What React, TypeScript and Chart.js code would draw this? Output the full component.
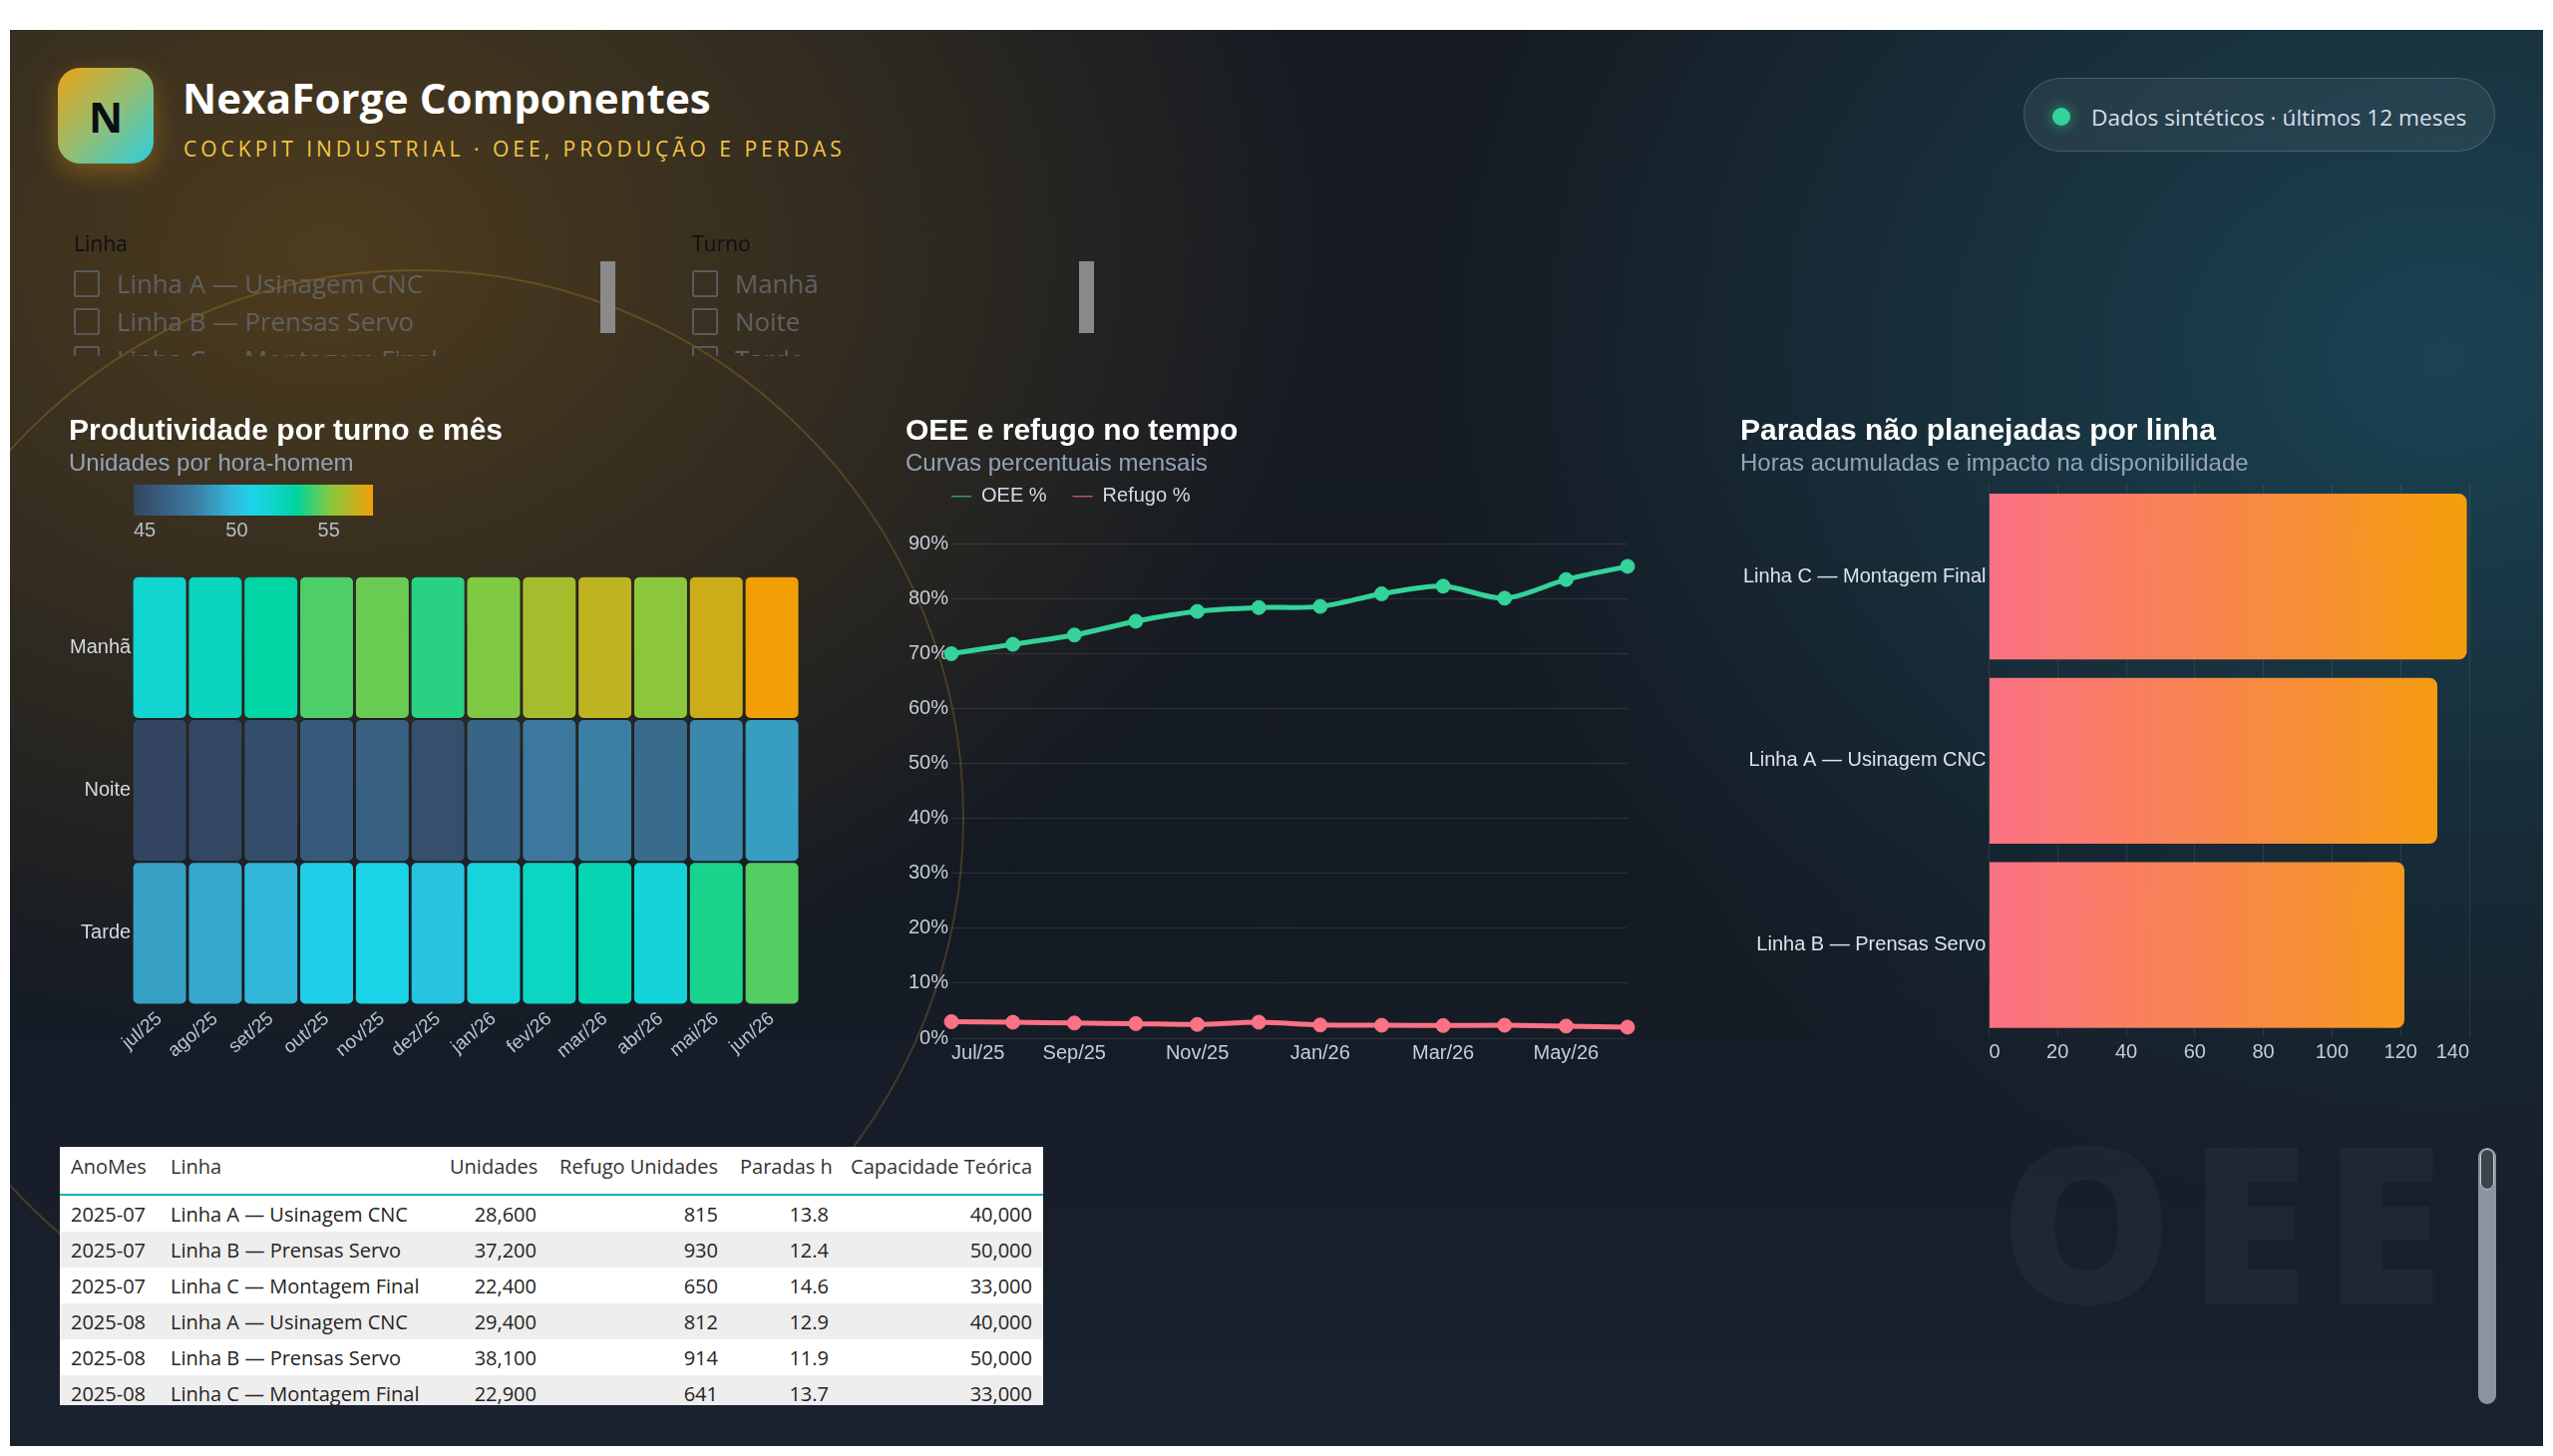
import React, { useEffect, useRef } from 'react';
import { Chart, registerables } from 'chart.js';

Chart.register(...registerables);

// ---------------- DATA ----------------
const heatMonths = ['jul/25', 'ago/25', 'set/25', 'out/25', 'nov/25', 'dez/25', 'jan/26', 'fev/26', 'mar/26', 'abr/26', 'mai/26', 'jun/26'];
const heatRows = ['Manhã', 'Noite', 'Tarde'];
const prodManha = [52.3, 52.9, 53.7, 54.9, 55.3, 54.4, 55.6, 56.4, 56.9, 55.8, 57.2, 58.0];
const prodNoite = [45.0, 45.1, 45.5, 46.3, 46.7, 45.6, 46.9, 48.1, 48.4, 47.3, 48.7, 49.4];
const prodTarde = [49.5, 49.8, 50.3, 51.3, 51.6, 50.8, 52.0, 52.8, 53.3, 52.1, 54.2, 55.0];
const colorScaleMin = 45;
const colorScaleMax = 58;
const colorScaleTicks = [45, 50, 55];

const oeeMonths = ['Jul/25', 'Aug/25', 'Sep/25', 'Oct/25', 'Nov/25', 'Dec/25', 'Jan/26', 'Feb/26', 'Mar/26', 'Apr/26', 'May/26', 'Jun/26'];
const oeeValues = [70.0, 71.7, 73.4, 75.9, 77.7, 78.4, 78.6, 80.9, 82.3, 80.1, 83.5, 85.9];
const refugoValues = [3.0, 2.9, 2.75, 2.65, 2.5, 2.9, 2.4, 2.35, 2.3, 2.35, 2.2, 2.0];
const oeeAxisTicks = [0, 10, 20, 30, 40, 50, 60, 70, 80, 90];
const oeeAxisMax = 95;

const stopLines = ['Linha C — Montagem Final', 'Linha A — Usinagem CNC', 'Linha B — Prensas Servo'];
const stopHours = [139.3, 130.7, 121.1];

const tableHeaders = ['AnoMes', 'Linha', 'Unidades', 'Refugo Unidades', 'Paradas h', 'Capacidade Teórica'];
const tableAnoMes = ['2025-07', '2025-07', '2025-07', '2025-08', '2025-08', '2025-08'];
const tableLinha = ['Linha A — Usinagem CNC', 'Linha B — Prensas Servo', 'Linha C — Montagem Final', 'Linha A — Usinagem CNC', 'Linha B — Prensas Servo', 'Linha C — Montagem Final'];
const tableUnidades = [28600, 37200, 22400, 29400, 38100, 22900];
const tableRefugo = [815, 930, 650, 812, 914, 641];
const tableParadas = [13.8, 12.4, 14.6, 12.9, 11.9, 13.7];
const tableCapacidade = [40000, 50000, 33000, 40000, 50000, 33000];

const filterLinhas = ['Linha A — Usinagem CNC', 'Linha B — Prensas Servo', 'Linha C — Montagem Final'];
const filterTurnos = ['Manhã', 'Noite', 'Tarde'];

// ---------------- STYLE ----------------
const FONT_CHART = 'Arial, "Liberation Sans", Helvetica, sans-serif';
const FONT_UI = '"Open Sans", "Noto Sans", sans-serif';
const scaleStops: [number, string][] = [
  [0, '#334560'],
  [0.25, '#3c7aa0'],
  [0.4, '#33b5d8'],
  [0.5, '#1cd4ea'],
  [0.68, '#00d5a0'],
  [0.82, '#84c940'],
  [1, '#f29f05'],
];

function hexToRgb(h: string) {
  const n = parseInt(h.slice(1), 16);
  return [(n >> 16) & 255, (n >> 8) & 255, n & 255];
}
function colorFor(v: number) {
  let t = (v - colorScaleMin) / (colorScaleMax - colorScaleMin);
  t = Math.max(0, Math.min(1, t));
  for (let i = 0; i < scaleStops.length - 1; i++) {
    const [t0, c0] = scaleStops[i];
    const [t1, c1] = scaleStops[i + 1];
    if (t <= t1) {
      const f = (t - t0) / (t1 - t0);
      const a = hexToRgb(c0);
      const b = hexToRgb(c1);
      const c = a.map((x, k) => Math.round(x + (b[k] - x) * f));
      return `rgb(${c[0]},${c[1]},${c[2]})`;
    }
  }
  return scaleStops[scaleStops.length - 1][1];
}
const cssScaleGradient = `linear-gradient(90deg, ${scaleStops.map(([t, c]) => `${c} ${t * 100}%`).join(', ')})`;

Chart.defaults.font.family = FONT_CHART;
Chart.defaults.color = '#c6cdd7';

const titleOpts = (text: string) => ({
  display: true,
  text,
  align: 'start' as const,
  color: '#ffffff',
  font: { size: 30, weight: 'bold' as const },
  padding: { top: 10, bottom: 0 },
});
const subtitleOpts = (text: string, bottom: number) => ({
  display: true,
  text,
  align: 'start' as const,
  color: '#94a3b8',
  font: { size: 24 },
  padding: { top: 0, bottom },
});

const legendShift = {
  id: 'legendShift',
  afterLayout(chart: any, _args: any, opts: any) {
    const lg = chart.legend;
    if (lg && opts && opts.dx) {
      lg.left += opts.dx;
      lg.right += opts.dx;
    }
  },
};

function ChartCanvas({ left, top, width, height, make }: { left: number; top: number; width: number; height: number; make: () => any }) {
  const ref = useRef<HTMLCanvasElement>(null);
  useEffect(() => {
    const chart = new Chart(ref.current as HTMLCanvasElement, make());
    return () => chart.destroy();
  }, []);
  return <canvas ref={ref} width={width} height={height} style={{ position: 'absolute', left, top, width, height }} />;
}

function makeHeatmap() {
  const rows = [
    { label: 'Tarde', values: prodTarde },
    { label: 'Noite', values: prodNoite },
    { label: 'Manhã', values: prodManha },
  ];
  return {
    type: 'bar',
    data: {
      labels: heatMonths,
      datasets: rows.map((r) => ({
        label: r.label,
        data: heatMonths.map(() => 1),
        backgroundColor: r.values.map(colorFor),
        borderColor: 'rgba(20,24,32,0.55)',
        borderWidth: 1,
        borderRadius: { topLeft: 6, topRight: 6, bottomLeft: 6, bottomRight: 6 },
        borderSkipped: false,
        barPercentage: 1,
        categoryPercentage: 0.985,
      })),
    },
    options: {
      animation: false,
      responsive: false,
      devicePixelRatio: 1,
      layout: { padding: { right: 7, bottom: 2 } },
      plugins: {
        title: titleOpts('Produtividade por turno e mês'),
        subtitle: subtitleOpts('Unidades por hora-homem', 98),
        legend: { display: false },
        tooltip: { enabled: false },
      },
      scales: {
        x: {
          stacked: true,
          grid: { display: false, drawTicks: false },
          border: { display: false },
          ticks: { minRotation: 40, maxRotation: 40, padding: 3, color: '#b9c2cf', font: { size: 19 } },
        },
        y: {
          stacked: true,
          min: 0,
          max: 3,
          afterBuildTicks: (axis: any) => {
            axis.ticks = [0.5, 1.5, 2.5].map((value) => ({ value }));
          },
          grid: { display: false, drawTicks: false },
          border: { display: false },
          ticks: {
            padding: 1,
            color: '#d3d9e2',
            font: { size: 20 },
            callback: (v: any) => heatRows[2 - Math.floor(Number(v))],
          },
        },
      },
    },
  };
}

function makeLine() {
  return {
    type: 'line',
    data: {
      labels: oeeMonths,
      datasets: [
        { label: 'OEE %', data: oeeValues, borderColor: '#34d399', backgroundColor: '#34d399', borderWidth: 5, pointRadius: 7, pointBorderWidth: 1, tension: 0.3 },
        { label: 'Refugo %', data: refugoValues, borderColor: '#fb7185', backgroundColor: '#fb7185', borderWidth: 5, pointRadius: 7, pointBorderWidth: 1, tension: 0.3 },
      ],
    },
    plugins: [legendShift],
    options: {
      animation: false,
      responsive: false,
      devicePixelRatio: 1,
      layout: { padding: { right: 10, bottom: 0 } },
      plugins: {
        title: titleOpts('OEE e refugo no tempo'),
        subtitle: subtitleOpts('Curvas percentuais mensais', -18),
        legend: {
          align: 'start',
          labels: { usePointStyle: true, pointStyle: 'line', pointStyleWidth: 20, padding: 26, color: '#d5dbe4', font: { size: 20 } },
        },
        legendShift: { dx: 20 },
        tooltip: { enabled: false },
      },
      scales: {
        x: {
          grid: { display: false, drawTicks: false },
          border: { display: false },
          ticks: {
            autoSkip: false,
            maxRotation: 0,
            align: 'inner',
            padding: 3,
            color: '#c6cdd7',
            font: { size: 20 },
            callback: (_v: any, i: number) => (i % 2 === 0 ? oeeMonths[i] : ''),
          },
        },
        y: {
          min: 0,
          max: oeeAxisMax,
          afterBuildTicks: (axis: any) => {
            axis.ticks = oeeAxisTicks.map((value) => ({ value }));
          },
          grid: { color: 'rgba(255,255,255,0.1)', drawTicks: false },
          border: { display: false },
          ticks: { padding: 3, color: '#c6cdd7', font: { size: 20 }, callback: (v: any) => `${v}%` },
        },
      },
    },
  };
}

function makeBars() {
  return {
    type: 'bar',
    data: {
      labels: stopLines,
      datasets: [
        {
          label: 'Horas de parada',
          data: stopHours,
          backgroundColor: (ctx: any) => {
            const chart = ctx.chart;
            const area = chart.chartArea;
            if (!area) return '#f59e0b';
            const g = chart.ctx.createLinearGradient(area.left, 0, area.right, 0);
            g.addColorStop(0, '#fb7185');
            g.addColorStop(1, '#f59e0b');
            return g;
          },
          borderRadius: 8,
          borderSkipped: 'start',
          barPercentage: 1,
          categoryPercentage: 0.9,
        },
      ],
    },
    options: {
      indexAxis: 'y',
      animation: false,
      responsive: false,
      devicePixelRatio: 1,
      layout: { padding: { right: 34, bottom: 1 } },
      plugins: {
        title: titleOpts('Paradas não planejadas por linha'),
        subtitle: subtitleOpts('Horas acumuladas e impacto na disponibilidade', 6),
        legend: { display: false },
        tooltip: { enabled: false },
      },
      scales: {
        x: {
          beginAtZero: true,
          grid: { color: 'rgba(255,255,255,0.09)', drawTicks: false },
          border: { display: false },
          ticks: { stepSize: 20, align: 'inner', padding: 3, color: '#c6cdd7', font: { size: 20 } },
        },
        y: {
          grid: { display: false, drawTicks: false },
          border: { display: false },
          ticks: { padding: 3, color: '#dde3ea', font: { size: 20 } },
        },
      },
    },
  };
}

const BG = [
  'radial-gradient(ellipse 1300px 1000px at 320px 230px, rgba(112,80,26,0.62) 0%, rgba(112,80,26,0.28) 45%, rgba(112,80,26,0) 78%)',
  'radial-gradient(ellipse 1250px 1050px at 2440px 330px, rgba(28,78,96,0.78) 0%, rgba(28,78,96,0.3) 50%, rgba(28,78,96,0) 82%)',
  'linear-gradient(180deg, #161b23 0%, #141a23 60%, #1a2230 100%)',
].join(', ');

function Slicer({ left, label, items, barLeft }: { left: number; label: string; items: string[]; barLeft: number }) {
  return (
    <>
      <div style={{ position: 'absolute', left, top: 230, font: `21px ${FONT_UI}`, lineHeight: '28px', color: '#101010' }}>{label}</div>
      {items.map((it, i) => (
        <div key={it} style={{ position: 'absolute', left, top: 265 + i * 38, height: 38, whiteSpace: 'nowrap' }}>
          <div style={{ position: 'absolute', left: 0, top: 6, width: 22, height: 23, border: '2px solid #5a5a5a', borderRadius: 2 }} />
          <div style={{ position: 'absolute', left: 43, top: 0, font: `25.8px ${FONT_UI}`, lineHeight: '38px', color: '#606060' }}>{it}</div>
        </div>
      ))}
      <div style={{ position: 'absolute', left: barLeft, top: 262, width: 15, height: 72, background: '#8a8a8a' }} />
    </>
  );
}

export default function App() {
  const numCell = (v: string, key: string) => (
    <td key={key} style={{ textAlign: 'right', padding: '0 11px', height: 36, whiteSpace: 'nowrap' }}>{v}</td>
  );
  return (
    <div style={{ position: 'fixed', left: 0, top: 0, width: 2560, height: 1460, background: '#ffffff', overflow: 'hidden' }}>
      <div style={{ position: 'absolute', left: 10, top: 30, width: 2540, height: 1420, overflow: 'hidden', background: BG }}>
        <div style={{ position: 'absolute', left: 407 - 550, top: 790 - 550, width: 1100, height: 1100, borderRadius: '50%', border: '2px solid rgba(226,168,48,0.22)', boxSizing: 'border-box' }} />
        <div style={{ position: 'absolute', left: 1995, top: 1083, font: `800 219px ${FONT_UI}`, lineHeight: '219px', letterSpacing: 15, color: 'rgba(255,255,255,0.035)', whiteSpace: 'nowrap' }}>OEE</div>
      </div>

      {/* header */}
      <div style={{ position: 'absolute', left: 58, top: 68, width: 96, height: 96, borderRadius: 22, background: 'linear-gradient(135deg, #eaa316 0%, #96bd72 50%, #28d0e0 100%)', boxShadow: '0 8px 26px rgba(232,160,30,0.35)', display: 'flex', alignItems: 'center', justifyContent: 'center', font: `700 42px ${FONT_UI}`, color: '#0a0f14' }}>N</div>
      <div style={{ position: 'absolute', left: 183, top: 70, font: `700 42px ${FONT_UI}`, lineHeight: '56px', letterSpacing: 0.15, color: '#ffffff', whiteSpace: 'nowrap' }}>NexaForge Componentes</div>
      <div style={{ position: 'absolute', left: 184, top: 134, font: `21px ${FONT_UI}`, lineHeight: '30px', letterSpacing: 4.0, color: '#f5c542', whiteSpace: 'nowrap' }}>COCKPIT INDUSTRIAL · OEE, PRODUÇÃO E PERDAS</div>

      <div style={{ position: 'absolute', left: 2029, top: 78, width: 473, height: 74, boxSizing: 'border-box', borderRadius: 37, background: 'rgba(255,255,255,0.06)', border: '1.5px solid rgba(255,255,255,0.16)' }}>
        <div style={{ position: 'absolute', left: 28, top: 29, width: 18, height: 18, borderRadius: 9, background: '#34d399', boxShadow: '0 0 14px rgba(52,211,153,0.65)' }} />
        <div style={{ position: 'absolute', left: 67, top: 3, font: `22.7px ${FONT_UI}`, lineHeight: '71px', color: '#d8dee8', whiteSpace: 'nowrap' }}>Dados sintéticos · últimos 12 meses</div>
      </div>

      {/* slicers */}
      <div style={{ position: 'absolute', left: 0, top: 220, width: 1200, height: 137, overflow: 'hidden' }}>
        <div style={{ position: 'absolute', left: 0, top: -220 }}>
          <Slicer left={74} label="Linha" items={filterLinhas} barLeft={602} />
          <Slicer left={694} label="Turno" items={filterTurnos} barLeft={1082} />
        </div>
      </div>

      {/* charts */}
      <ChartCanvas left={69} top={405} width={740} height={666} make={makeHeatmap} />
      <div style={{ position: 'absolute', left: 134, top: 486, width: 240, height: 31, background: cssScaleGradient }} />
      {colorScaleTicks.map((t) => (
        <div key={t} style={{ position: 'absolute', left: 134 + ((t - colorScaleMin) / (colorScaleMax - colorScaleMin)) * 240, top: 520, font: `20px ${FONT_CHART}`, lineHeight: '23px', color: '#b4bdca' }}>{t}</div>
      ))}
      <ChartCanvas left={908} top={405} width={734} height={666} make={makeLine} />
      <ChartCanvas left={1745} top={405} width={765} height={666} make={makeBars} />

      {/* table */}
      <div style={{ position: 'absolute', left: 60, top: 1150, width: 986, height: 259, overflow: 'hidden', background: '#ffffff' }}>
        <table style={{ width: 986, borderCollapse: 'collapse', tableLayout: 'fixed', font: `20px ${FONT_UI}`, color: '#252423' }}>
          <colgroup>
            {[100, 280, 109, 182, 111, 204].map((w, i) => <col key={i} style={{ width: w }} />)}
          </colgroup>
          <thead>
            <tr>
              {tableHeaders.map((h, i) => (
                <th key={h} style={{ textAlign: i < 2 ? 'left' : 'right', fontWeight: 400, color: '#333333', padding: '6px 11px 13px', lineHeight: '28px', verticalAlign: 'top', borderBottom: '2px solid #01b8aa', whiteSpace: 'nowrap' }}>{h}</th>
              ))}
            </tr>
          </thead>
          <tbody>
            {tableAnoMes.map((m, r) => (
              <tr key={r} style={{ background: r % 2 === 1 ? '#eeeeee' : '#ffffff' }}>
                <td style={{ padding: '0 11px', height: 36, whiteSpace: 'nowrap' }}>{m}</td>
                <td style={{ padding: '0 11px', height: 36, whiteSpace: 'nowrap' }}>{tableLinha[r]}</td>
                {numCell(tableUnidades[r].toLocaleString('en-US'), 'u')}
                {numCell(tableRefugo[r].toLocaleString('en-US'), 'r')}
                {numCell(tableParadas[r].toFixed(1), 'p')}
                {numCell(tableCapacidade[r].toLocaleString('en-US'), 'c')}
              </tr>
            ))}
          </tbody>
        </table>
      </div>

      {/* table scrollbar */}
      <div style={{ position: 'absolute', left: 2485, top: 1151, width: 18, height: 257, borderRadius: 9, background: '#8b949e' }}>
        <div style={{ position: 'absolute', left: 2, top: 1, width: 14, height: 41, boxSizing: 'border-box', borderRadius: 7, background: '#3b434d', border: '1px solid #c3cad1' }} />
      </div>
    </div>
  );
}
